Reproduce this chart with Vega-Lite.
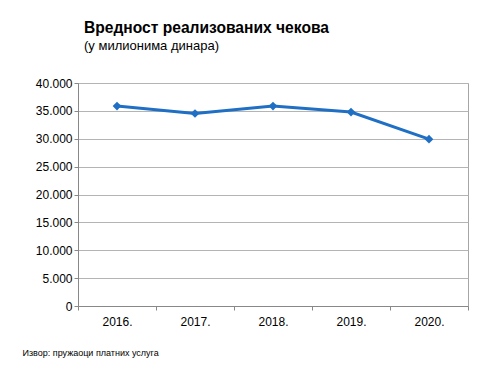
{
  "$schema": "https://vega.github.io/schema/vega-lite/v6.json",
  "autosize": "none",
  "width": 390,
  "height": 223,
  "padding": {"left": 78, "top": 83, "right": 18, "bottom": 69},
  "background": "white",
  "title": {
    "text": "Вредност реализованих чекова",
    "subtitle": "(у милионима  динара)",
    "anchor": "start",
    "frame": "group",
    "dx": 6,
    "offset": 24,
    "font": "Liberation Sans",
    "fontSize": 15.6,
    "fontWeight": "bold",
    "color": "black",
    "subtitleFont": "Liberation Sans",
    "subtitleFontSize": 13,
    "subtitleColor": "black",
    "subtitlePadding": 3
  },
  "config": {
    "view": {"stroke": "#a6a6a6", "strokeWidth": 1},
    "font": "Liberation Sans"
  },
  "data": {
    "values": [
      {"year": "2016.", "value": 35860},
      {"year": "2017.", "value": 34530},
      {"year": "2018.", "value": 35860},
      {"year": "2019.", "value": 34780},
      {"year": "2020.", "value": 29930}
    ]
  },
  "mark": {
    "type": "line",
    "color": "#1f6fc5",
    "strokeWidth": 3,
    "point": {"shape": "diamond", "size": 75, "filled": true, "color": "#1f6fc5"}
  },
  "encoding": {
    "x": {
      "field": "year",
      "type": "ordinal",
      "scale": {"paddingInner": 0, "paddingOuter": 0},
      "axis": {
        "title": "Извор: пружаоци платних  услуга",
        "titleFont": "Liberation Sans",
        "titleFontSize": 9,
        "titleFontWeight": "normal",
        "titleColor": "black",
        "titleAnchor": "start",
        "titleAlign": "left",
        "titleBaseline": "alphabetic",
        "titleX": -56,
        "titleY": 49,
        "labelAngle": 0,
        "labelFontSize": 12,
        "labelColor": "black",
        "labelPadding": 6,
        "bandPosition": 0,
        "tickBand": "extent",
        "ticks": true,
        "tickSize": 4,
        "tickColor": "#888888",
        "domainColor": "#888888",
        "grid": false
      }
    },
    "y": {
      "field": "value",
      "type": "quantitative",
      "scale": {"domain": [0, 40000], "nice": false},
      "axis": {
        "title": null,
        "values": [0, 5000, 10000, 15000, 20000, 25000, 30000, 35000, 40000],
        "labelExpr": "replace(format(datum.value, ','), ',', '.')",
        "labelFontSize": 12,
        "labelColor": "black",
        "labelPadding": 2,
        "tickSize": 4,
        "tickColor": "#888888",
        "domainColor": "#888888",
        "gridColor": "#b4b4b4",
        "grid": true
      }
    }
  }
}
